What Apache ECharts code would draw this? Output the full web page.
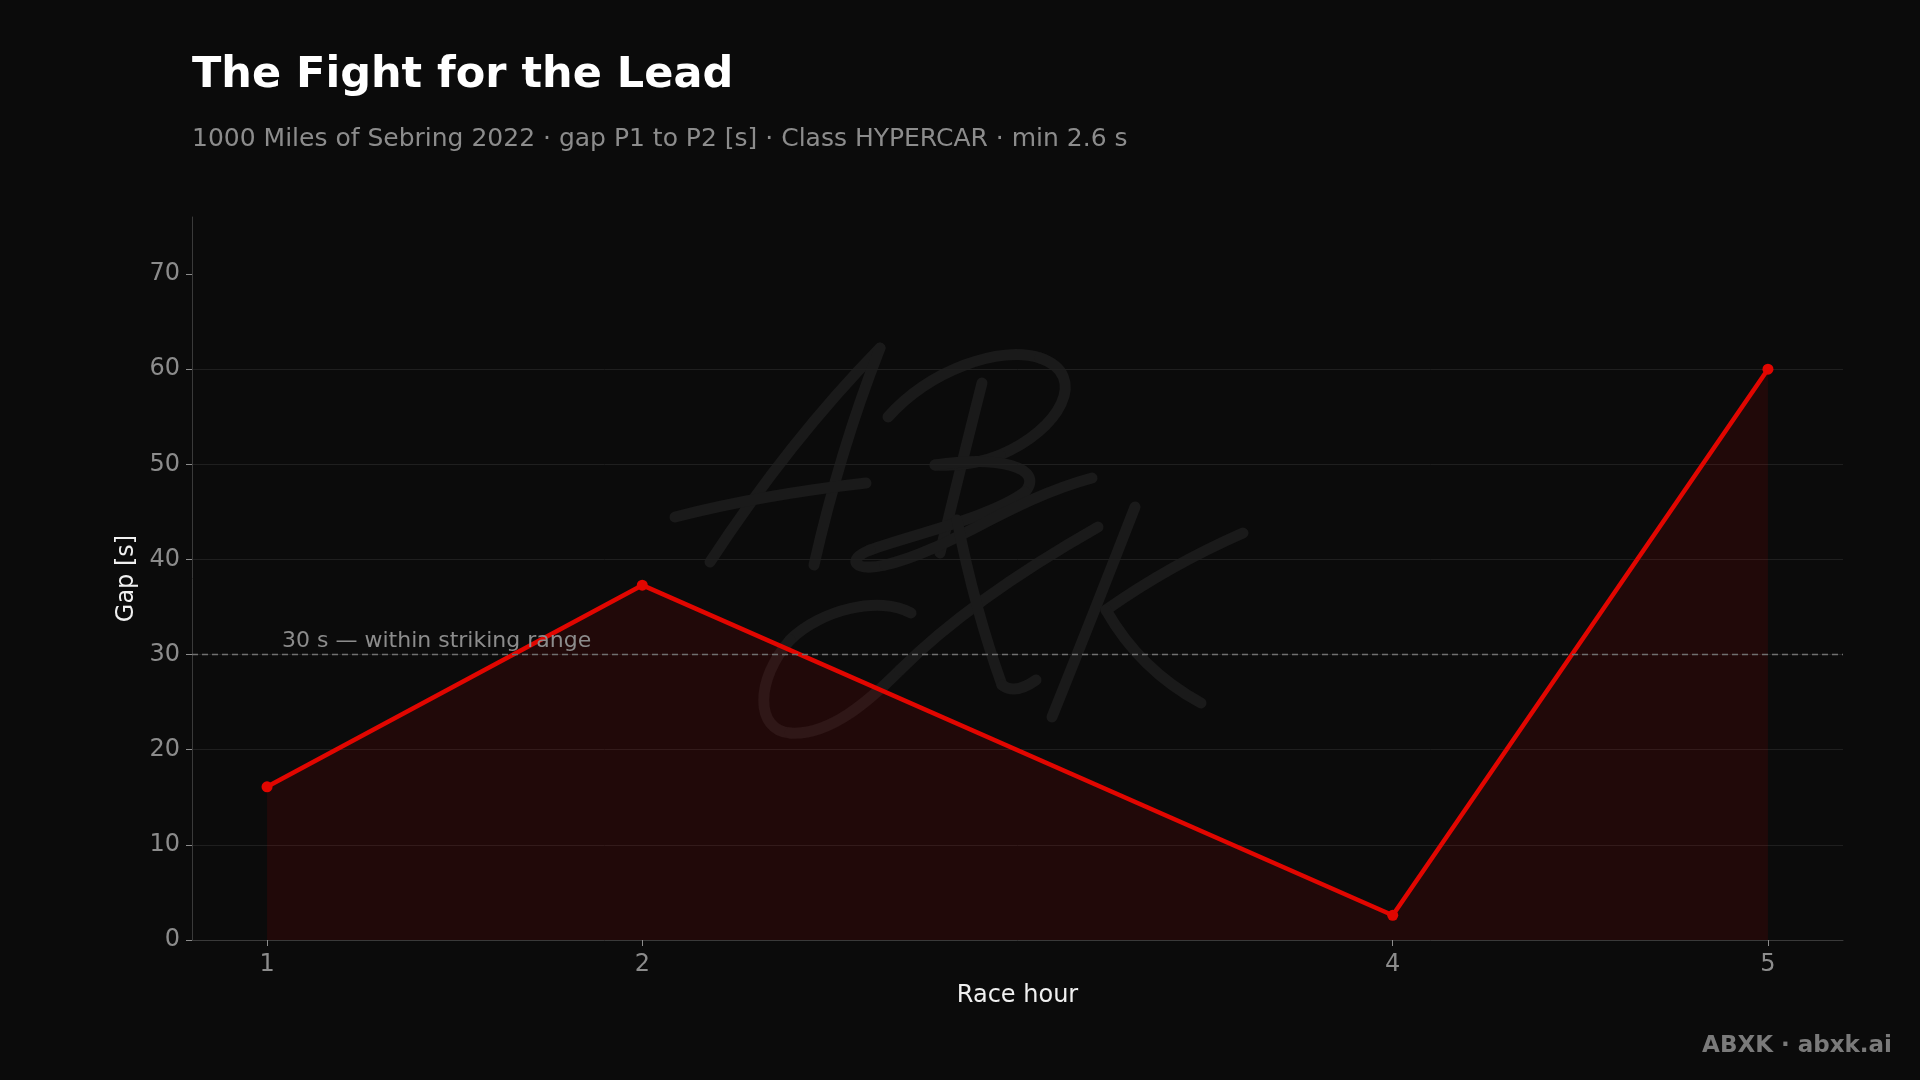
<!DOCTYPE html>
<html>
<head>
<meta charset="utf-8">
<script src="https://cdn.jsdelivr.net/npm/echarts@6/dist/echarts.min.js"></script>
<style>
  html, body { margin: 0; padding: 0; background: #0b0b0b; }
  #chart { width: 1920px; height: 1080px; }
</style>
</head>
<body>
<div id="chart"></div>
<script>
const titleText = 'The Fight for the Lead';
const subtitleText = '1000 Miles of Sebring 2022 · gap P1 to P2 [s] · Class HYPERCAR · min 2.6 s';
const raceHours = [1, 2, 4, 5];
const gapSeconds = [16.1, 37.3, 2.6, 60.0];
const yTicks = [0, 10, 20, 30, 40, 50, 60, 70];
const strikingRange = 30;
const strikingLabel = '30 s — within striking range';
const xName = 'Race hour';
const yName = 'Gap [s]';
const footer = 'ABXK · abxk.ai';

const FONT = 'DejaVu Sans';
const chart = echarts.init(document.getElementById('chart'), null, { renderer: 'canvas' });

// watermark strokes: [x1,y1, cpx1,cpy1, cpx2,cpy2, x2,y2] (cpx2/cpy2 null => quadratic)
const wmSegments = [
  [710,562, 790,440, null,null, 880,348],
  [880,348, 840,450, null,null, 814,565],
  [675,517, 760,495, null,null, 866,483],
  [982,383, 960,470, null,null, 940,553],
  [888,417, 930,370, 1000,345, 1040,358],
  [1040,358, 1090,375, 1060,430, 1000,455],
  [1000,455, 975,465, 950,466, 935,465],
  [935,465, 1000,455, 1045,468, 1025,492],
  [1025,492, 990,518, 910,535, 870,550],
  [870,550, 845,560, 855,572, 885,565],
  [885,565, 950,550, 1010,500, 1092,478],
  [911,613, 880,595, 820,610, 790,640],
  [790,640, 755,680, 755,730, 790,733],
  [790,733, 830,736, 870,700, 900,670],
  [900,670, 960,610, 1040,560, 1098,527],
  [957,520, 975,610, null,null, 1002,685],
  [1002,685, 1015,695, null,null, 1036,680],
  [1135,507, 1095,610, null,null, 1052,717],
  [1243,533, 1170,565, null,null, 1106,610],
  [1106,610, 1140,670, null,null, 1201,703]
];
const wmStyle = { stroke: '#1a1a1a', fill: null, lineWidth: 11, lineCap: 'round', lineJoin: 'round' };

const wmChildren = wmSegments.map(s => {
  const shape = { x1: s[0], y1: s[1], cpx1: s[2], cpy1: s[3], x2: s[6], y2: s[7] };
  if (s[4] !== null) { shape.cpx2 = s[4]; shape.cpy2 = s[5]; }
  return { type: 'bezierCurve', shape: shape, style: wmStyle, silent: true };
});

const option = {
  backgroundColor: '#0b0b0b',
  animation: false,
  textStyle: { fontFamily: FONT },
  title: [
    { text: titleText, left: 192, top: 54, padding: 0,
      textStyle: { color: '#ffffff', fontSize: 43, fontWeight: 'bold', fontFamily: FONT } },
    { text: subtitleText, left: 192, top: 127, padding: 0,
      textStyle: { color: '#8c8c8c', fontSize: 25, fontWeight: 'normal', fontFamily: FONT } }
  ],
  grid: { left: 192, right: 77, top: 217, bottom: 140, containLabel: false },
  xAxis: {
    type: 'value', min: 0.8, max: 5.2,
    name: xName, nameLocation: 'middle', nameGap: 44,
    nameTextStyle: { color: '#f0f0f0', fontSize: 24, fontFamily: FONT },
    axisLine: { show: true, lineStyle: { color: '#3a3a3a', width: 1 } },
    axisTick: { show: true, length: 6, customValues: raceHours, lineStyle: { color: '#8c8c8c' } },
    axisLabel: { customValues: raceHours, color: '#8c8c8c', fontSize: 24, margin: 13, fontFamily: FONT },
    splitLine: { show: false }
  },
  yAxis: {
    type: 'value', min: 0, max: 76, interval: 10,
    name: yName, nameLocation: 'middle', nameGap: 51, nameRotate: 90,
    nameTextStyle: { color: '#f0f0f0', fontSize: 24, fontFamily: FONT },
    axisLine: { show: true, lineStyle: { color: '#3a3a3a', width: 1 } },
    axisTick: { show: true, length: 6, customValues: yTicks, lineStyle: { color: '#8c8c8c' } },
    axisLabel: { customValues: yTicks, color: '#8c8c8c', fontSize: 24, margin: 12, fontFamily: FONT },
    splitLine: { show: true, showMaxLine: false, lineStyle: { color: '#1f1f1f', width: 1 } }
  },
  series: [{
    type: 'line',
    data: raceHours.map((h, i) => [h, gapSeconds[i]]),
    symbol: 'circle', symbolSize: 11, showSymbol: true,
    lineStyle: { color: '#e10600', width: 4.5 },
    itemStyle: { color: '#e10600' },
    areaStyle: { color: 'rgba(225,0,0,0.15)' },
    z: 3,
    markLine: {
      silent: true, symbol: 'none',
      lineStyle: { color: '#707070', type: [6, 4], width: 1.3 },
      label: { show: false },
      data: [{ yAxis: strikingRange }]
    },
    markPoint: {
      silent: true, symbol: 'circle', symbolSize: 0,
      data: [{ coord: [1.04, strikingRange] }],
      label: {
        show: true, formatter: strikingLabel, position: [0, -2],
        align: 'left', verticalAlign: 'bottom',
        color: '#8c8c8c', fontSize: 22, fontFamily: FONT
      }
    }
  }],
  graphic: [
    { type: 'group', z: 0, silent: true, children: wmChildren },
    {
      type: 'text', right: 28, top: 1035, z: 60,
      style: { text: footer, fill: '#7a7a7a', font: 'bold 23px "DejaVu Sans"' }
    }
  ]
};
chart.setOption(option);
</script>
</body>
</html>
